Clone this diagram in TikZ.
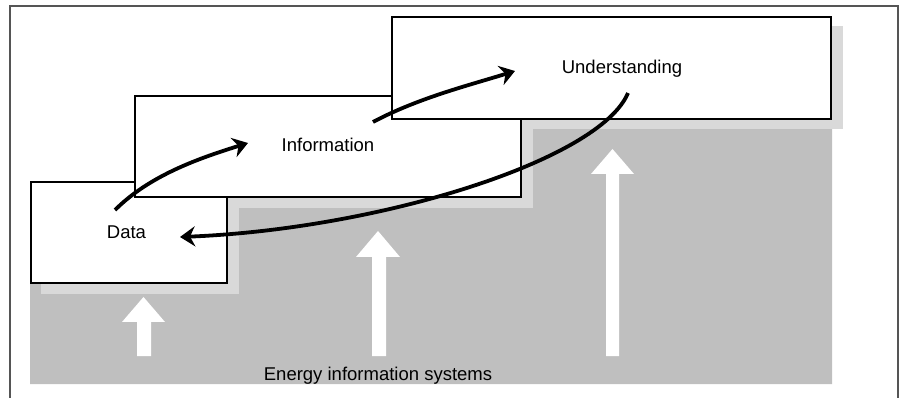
\documentclass[tikz,border=0pt]{standalone}
\usepackage{fontspec}
\setmainfont{Liberation Sans}
\usetikzlibrary{arrows.meta}
\definecolor{darkfill}{HTML}{BFBFBF}
\definecolor{shadowfill}{HTML}{D9D9D9}
\definecolor{framecol}{HTML}{555555}
\tikzset{
  stepbox/.style={draw=black, line width=2pt, fill=white, rectangle, inner sep=0pt},
  shadowbox/.style={fill=shadowfill, draw=none},
  lbl/.style={font=\fontsize{18.5}{21}\selectfont, inner sep=0pt, anchor=base},
  flow/.style={line width=3.8pt, -{Stealth[length=15pt,width=20pt,inset=5pt]}},
  uparrow/.style={fill=white, draw=none}
}
\begin{document}
\begin{tikzpicture}[x=1pt,y=-1pt]
\useasboundingbox (0,0) rectangle (903,398);
% frame
\draw[framecol, line width=1.3pt] (10,398) -- (10,6) -- (898,6) -- (898,398);
% gray staircase
\fill[darkfill] (30,384) -- (30,208) -- (533,208) -- (533,129) -- (832,129) -- (832,384) -- cycle;
% shadows
\fill[shadowfill] (41,192) rectangle (239,294);
\fill[shadowfill] (145,106) rectangle (533,208);
\fill[shadowfill] (402,26) rectangle (843,129);
% white up arrows
\fill[uparrow] (137,356) -- (137,322) -- (122,322) -- (143.5,297) -- (165,322) -- (151,322) -- (151,356) -- cycle;
\fill[uparrow] (372,356) -- (372,257) -- (356,257) -- (378,231) -- (400,257) -- (386,257) -- (386,356) -- cycle;
\fill[uparrow] (606,356) -- (606,174) -- (591,174) -- (612.5,149) -- (634,174) -- (619,174) -- (619,356) -- cycle;
% boxes
\node[stepbox, minimum width=196pt, minimum height=101pt] (dbox) at (129,232.5) {};
\node[stepbox, minimum width=386pt, minimum height=101pt] (ibox) at (328,146.5) {};
\node[stepbox, minimum width=439pt, minimum height=102pt] (ubox) at (611.5,68) {};
% labels
\node[lbl] (data) at (126.5,239) {Data};
\node[lbl] (info) at (328,152) {Information};
\node[lbl] (und) at (622,74) {Understanding};
\node[lbl] (eis) at (378,380) {Energy information systems};
% flow arrows
\coordinate (a1s) at (115,210);
\coordinate (a1e) at (248,143);
\coordinate (a2s) at (373,122);
\coordinate (a2e) at (515,71);
\coordinate (a3s) at (628,93);
\coordinate (a3e) at (180,237);
\draw[flow] (a1s) .. controls (150,175) and (200,158) .. (a1e);
\draw[flow] (a2s) .. controls (418,98) and (470,85) .. (a2e);
\draw[flow] (a3s) .. controls (600,160) and (380,229) .. (a3e);
\end{tikzpicture}
\end{document}
